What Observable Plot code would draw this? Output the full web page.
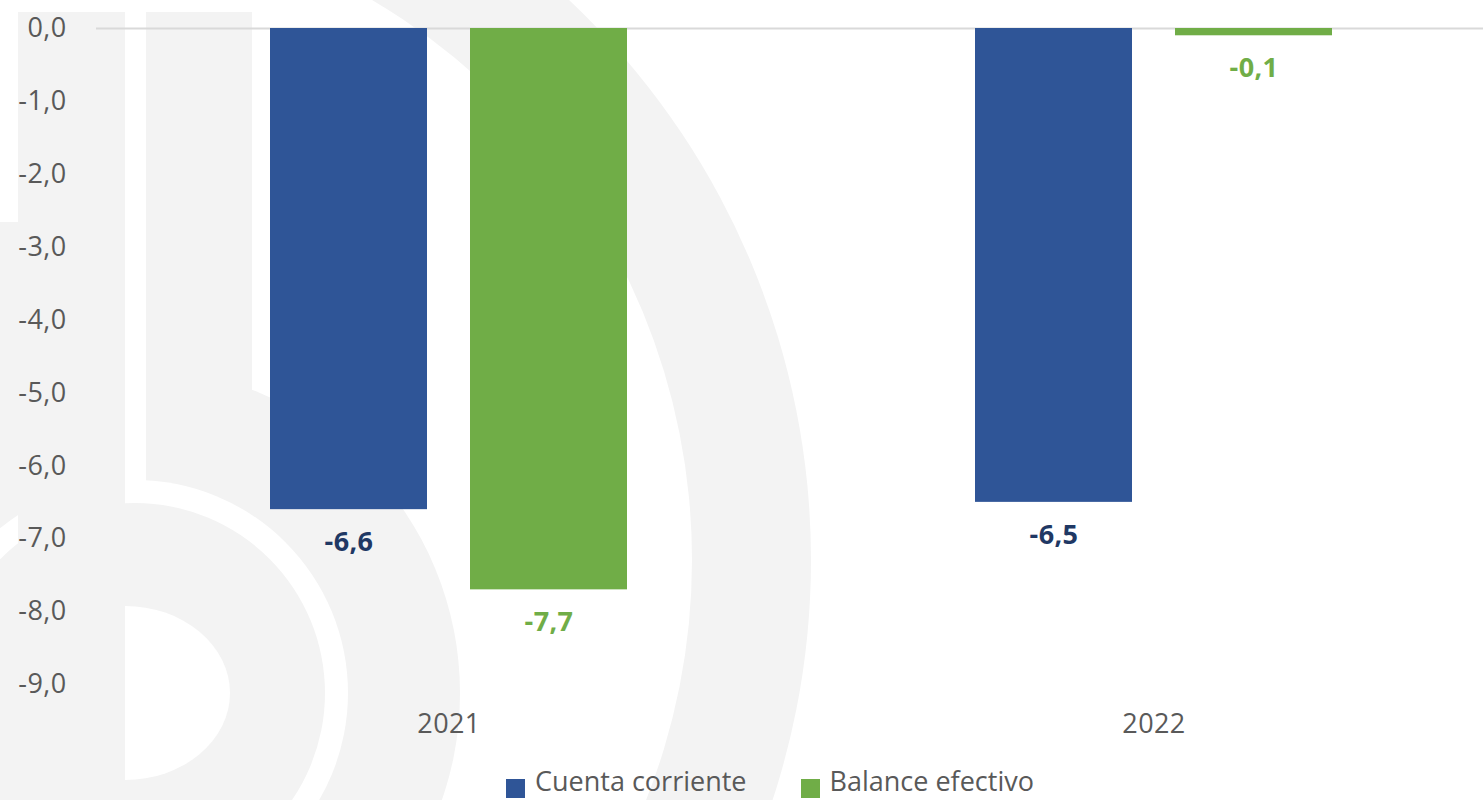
<!DOCTYPE html>
<html>
<head>
<meta charset="utf-8">
<script src="https://cdn.jsdelivr.net/npm/d3@7"></script>
<script src="https://cdn.jsdelivr.net/npm/@observablehq/plot@0.6"></script>
<style>
  html, body { margin: 0; padding: 0; background: #fff; }
  #wrap { position: relative; width: 1483px; height: 800px; overflow: hidden; background: #fff; }
  #wm { position: absolute; left: 0; top: 0; }
  #chart { position: absolute; left: 0; top: 0; width: 1506px; }
  #chart svg { max-width: none !important; }
  #chart svg text { letter-spacing: 0.4px; }
  #legend { position: absolute; left: 506px; top: 778px; display: flex; align-items: center;
            font-family: 'Open Sans', sans-serif; font-size: 27px; color: #595959; }
  .item { display: flex; align-items: center; height: 20px; }
  .sw { width: 19px; height: 19px; margin-right: 10px; }
  .lbl { position: relative; top: -7px; line-height: 20px; white-space: nowrap; }
</style>
</head>
<body>
<div id="wrap">
  <svg id="wm" width="1483" height="800">
    <g fill="#f3f3f3">
      <path fill-rule="evenodd" d="M-727,560a769,769 0 1,0 1538,0a769,769 0 1,0 -1538,0Z M-608,560a650,650 0 1,0 1300,0a650,650 0 1,0 -1300,0Z"/>
      <circle cx="135" cy="693" r="325"/>
      <rect x="125" y="0" width="21" height="482" fill="#fff"/>
      <rect x="146" y="12" width="106" height="470"/>
      <circle cx="135" cy="693" r="213" fill="#fff"/>
      <circle cx="135" cy="693" r="190"/>
      <path d="M125,606 A105,87 0 0 1 125,780 Z" fill="#fff"/>
      <rect x="18" y="12" width="107" height="800"/>
      <rect x="0" y="222" width="18" height="260"/>
    </g>
  </svg>
  <div id="chart"></div>
  <div id="legend"></div>
</div>
<script>
// ---- data ----
const years = ["2021", "2022"];
const seriesNames = ["Cuenta corriente", "Balance efectivo"];
const cuentaCorriente = [-6.6, -6.5];
const balanceEfectivo = [-7.7, -0.1];
const yTicks = [0, -1, -2, -3, -4, -5, -6, -7, -8, -9];
const barColors = ["#2F5597", "#70AD47"];
const labelColors = ["#1F3864", "#70AD47"];

const seriesValues = [cuentaCorriente, balanceEfectivo];
const data = years.flatMap((yr, i) =>
  seriesNames.map((s, j) => ({ year: yr, series: s, value: seriesValues[j][i] }))
);

const fmt = v => v.toFixed(1).replace(".", ",");

const chart = Plot.plot({
  width: 1506,
  height: 750,
  marginLeft: 95,
  marginRight: 0,
  marginTop: 28,
  marginBottom: 44,
  style: { background: "transparent", fontFamily: "'Open Sans', sans-serif", fontSize: "27px", color: "#595959", maxWidth: "none" },
  fx: { domain: years, padding: 0, label: null, tickSize: 0, tickPadding: 7, axis: "bottom" },
  x: { domain: seriesNames, axis: null, paddingInner: 0.214, paddingOuter: 0.861 },
  y: { domain: [-9.3, 0], ticks: yTicks, tickFormat: fmt, tickSize: 0, tickPadding: 30, label: null },
  color: { domain: seriesNames, range: barColors },
  marks: [
    Plot.ruleY([0], { stroke: "#d9d9d9", strokeWidth: 2 }),
    Plot.barY(data, { fx: "year", x: "series", y: "value", fill: "series" }),
    ...seriesNames.map((s, j) =>
      Plot.text(data, {
        filter: d => d.series === s,
        fx: "year", x: "series", y: "value",
        text: d => fmt(d.value),
        dy: 33,
        fill: labelColors[j],
        fontWeight: "bold",
        fontSize: 27
      })
    )
  ]
});
document.getElementById("chart").appendChild(chart);

// legend
const legend = document.getElementById("legend");
seriesNames.forEach((s, j) => {
  const item = document.createElement("div");
  item.className = "item";
  if (j > 0) item.style.marginLeft = "54px";
  const sw = document.createElement("div");
  sw.className = "sw";
  sw.style.background = barColors[j];
  const lbl = document.createElement("span");
  lbl.className = "lbl";
  lbl.textContent = s;
  item.appendChild(sw);
  item.appendChild(lbl);
  legend.appendChild(item);
});
</script>
</body>
</html>
